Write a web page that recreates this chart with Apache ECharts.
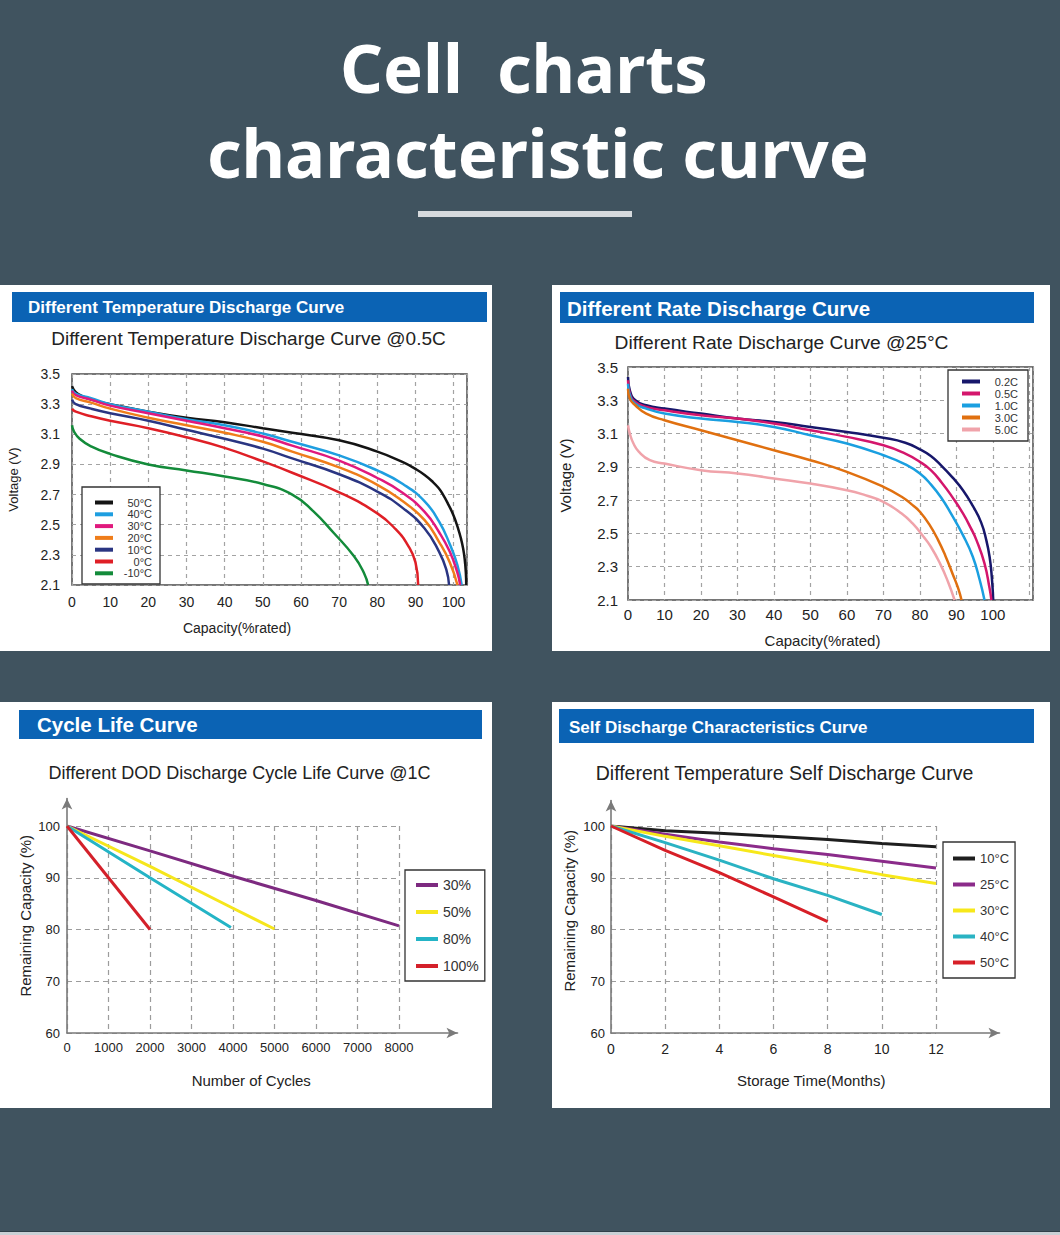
<!DOCTYPE html>
<html>
<head>
<meta charset="utf-8">
<script src="https://cdn.jsdelivr.net/npm/echarts@6/dist/echarts.min.js"></script>
<style>
html,body{margin:0;padding:0;background:#40535f;}
#c{width:1060px;height:1235px;}
</style>
</head>
<body>
<div id="c"></div>
<script>
// ===== Chart 1: Different Temperature Discharge Curve @0.5C  ([capacity %, voltage V]) =====
const tempNames = ['50°C', '40°C', '30°C', '20°C', '10°C', '0°C', '-10°C'];
const temp50 = [[0,3.42],[1,3.38],[3,3.35],[5,3.33],[10,3.30],[20,3.25],[30,3.21],[40,3.18],[50,3.14],[57.7,3.11],[70,3.06],[80,2.985],[86.7,2.915],[90,2.87],[92.4,2.83],[94.5,2.785],[96,2.745],[97.1,2.705],[98.7,2.63],[100,2.56],[101.1,2.48],[101.9,2.41],[102.5,2.34],[102.9,2.27],[103.2,2.18],[103.3,2.10]];
const temp40 = [[0,3.40],[1,3.37],[5,3.34],[10,3.30],[20,3.25],[30,3.20],[40,3.16],[50,3.105],[57.7,3.05],[70,2.96],[80,2.86],[86.7,2.77],[92.4,2.655],[96.2,2.52],[99,2.37],[101,2.23],[102.1,2.10]];
const temp30 = [[0,3.39],[1,3.36],[5,3.33],[10,3.29],[20,3.24],[30,3.19],[40,3.14],[50,3.085],[57.7,3.025],[70,2.925],[80,2.81],[86.7,2.71],[92.4,2.585],[96.2,2.45],[99,2.32],[101,2.18],[101.7,2.10]];
const temp20 = [[0,3.37],[1,3.34],[5,3.31],[10,3.27],[20,3.21],[30,3.16],[40,3.11],[50,3.05],[57.7,2.985],[70,2.88],[80,2.765],[86.7,2.655],[92.4,2.53],[96.2,2.385],[99,2.25],[101,2.10]];
const temp10 = [[0,3.33],[1,3.30],[5,3.27],[10,3.24],[20,3.19],[30,3.13],[40,3.07],[50,3.005],[57.7,2.94],[70,2.835],[80,2.72],[86.7,2.61],[92.4,2.475],[96.2,2.32],[98.1,2.20],[98.8,2.10]];
const temp0 = [[0,3.27],[1,3.25],[5,3.22],[10,3.19],[20,3.14],[30,3.08],[40,3.01],[50,2.92],[57.7,2.845],[70,2.715],[80,2.575],[84.8,2.47],[88.1,2.36],[90,2.25],[90.7,2.10]];
const tempM10 = [[0,3.16],[0.5,3.12],[2,3.07],[5,3.02],[10,2.97],[20,2.90],[30,2.86],[40,2.82],[50,2.77],[57.7,2.70],[63.2,2.59],[68.6,2.445],[73.9,2.29],[76.5,2.18],[77.6,2.10]];
const tempColors = ['#141414', '#1e9ee0', '#e0197d', '#ef7d1a', '#2a3582', '#df1f26', '#138b3a'];

// ===== Chart 2: Different Rate Discharge Curve @25°C =====
const rateNames = ['0.2C', '0.5C', '1.0C', '3.0C', '5.0C'];
const rate02 = [[0,3.44],[0.5,3.36],[2,3.30],[5,3.27],[10,3.25],[20,3.22],[30,3.19],[40,3.17],[50,3.14],[60,3.11],[70,3.075],[76,3.045],[80,3.005],[83,2.965],[86,2.905],[89,2.835],[91.8,2.76],[94.5,2.665],[96.8,2.565],[98.2,2.46],[99.1,2.36],[99.7,2.24],[100.1,2.10]];
const rate05 = [[0,3.42],[0.5,3.34],[2,3.29],[5,3.26],[10,3.24],[20,3.21],[30,3.19],[40,3.16],[50,3.12],[60,3.08],[70,3.03],[76,2.98],[80,2.93],[83,2.88],[86,2.805],[89,2.715],[91.8,2.62],[94,2.53],[95.5,2.46],[97.7,2.32],[99.1,2.17],[99.6,2.10]];
const rate10 = [[0,3.40],[0.5,3.33],[2,3.28],[5,3.25],[10,3.22],[20,3.19],[30,3.17],[40,3.14],[50,3.09],[60,3.04],[70,2.97],[76,2.915],[80,2.86],[83,2.795],[86,2.71],[88.5,2.62],[91.8,2.49],[94.5,2.36],[96.4,2.22],[97.7,2.10]];
const rate30 = [[0,3.37],[0.5,3.31],[2,3.27],[5,3.22],[10,3.18],[20,3.12],[30,3.06],[40,3.00],[50,2.94],[60,2.87],[70,2.78],[75,2.72],[78,2.67],[80,2.63],[82.7,2.55],[85,2.46],[87,2.365],[89,2.255],[90.5,2.17],[91.4,2.10]];
const rate50 = [[0,3.15],[0.5,3.10],[1.5,3.04],[3,2.99],[6,2.94],[10,2.92],[20,2.88],[30,2.86],[40,2.83],[50,2.80],[60,2.76],[65,2.73],[70,2.69],[75,2.62],[78,2.56],[81,2.48],[83,2.42],[85.5,2.32],[87.7,2.21],[89.5,2.10]];
const rateColors = ['#17176b', '#d4166c', '#1a9fe0', '#e07010', '#f0a3aa'];

// ===== Chart 3: Different DOD Discharge Cycle Life Curve @1C ([cycles, remaining %]) =====
const dodNames = ['30%', '50%', '80%', '100%'];
const dod30 = [[0,100],[2000,95.2],[4000,90.3],[6000,85.6],[8000,80.7]];
const dod50 = [[0,100],[2000,92.2],[4000,84.1],[5000,80.1]];
const dod80 = [[0,100],[2000,90.0],[3950,80.4]];
const dod100 = [[0,100],[2000,80.0]];
const dodColors = ['#7d2a80', '#f6e61c', '#24b4c6', '#d4202a'];

// ===== Chart 4: Different Temperature Self Discharge Curve ([months, remaining %]) =====
const sdNames = ['10°C', '25°C', '30°C', '40°C', '50°C'];
const storageMonths = [0, 2, 4, 6, 8, 10, 12];
const sd10 = [100, 99.1, 98.6, 98.0, 97.4, 96.6, 96.0];
const sd25 = [100, 98.4, 96.9, 95.6, 94.5, 93.2, 91.9];
const sd30 = [100, 98.0, 96.2, 94.3, 92.5, 90.6, 88.9];
const sd40 = [100, 96.8, 93.4, 89.8, 86.6, 82.9];
const sd50 = [100, 95.3, 91.0, 86.3, 81.5];
const sdColors = ['#1e1e1e', '#8b2b8a', '#f7e81a', '#2ab3c3', '#d71f27'];

// ===== Axis ranges [min, max, interval] and last labelled tick =====
const voltAxis = [2.1, 3.5, 0.2];
const capAxis1 = [0, 103.5, 10];
const capAxis2 = [0, 111, 10];
const capLastLabel = 100;
const cycleAxis = [0, 8000, 1000];
const remainAxis = [60, 100, 10];
const monthAxis = [0, 12, 2];

// ---------------------------------------------------------------
const FONT = 'Liberation Sans';
const dash1 = {type: [4, 4], color: '#a3a3a3', width: 1.2};
const dash3 = {type: [5, 4], color: '#9c9c9c', width: 1.2};

function curves(prefix, names, datas, colors, idx, width, smooth) {
  return names.map((n, i) => ({
    name: prefix + '#' + n,
    type: 'line',
    xAxisIndex: idx, yAxisIndex: idx,
    data: datas[i],
    symbol: 'none', showSymbol: false,
    smooth: smooth ? 0.5 : false,
    color: colors[i],
    lineStyle: {width: width, color: colors[i]},
    itemStyle: {color: colors[i]},
    animation: false
  }));
}
const pairs = (vals) => vals.map((v, i) => [storageMonths[i], v]);
const capLabel = (v) => (v <= capLastLabel ? String(v) : '');

function valAxis(grid, r, opt) {
  return Object.assign({
    gridIndex: grid, type: 'value', min: r[0], max: r[1], interval: r[2],
    axisLine: {show: false}, axisTick: {show: false},
    splitLine: {show: true, lineStyle: dash1}
  }, opt);
}
function arrowAxis(grid, opt) {
  return Object.assign({
    gridIndex: grid, type: 'value', min: 0, max: 1,
    axisLine: {show: true, onZero: false, symbol: ['none', 'arrow'], symbolSize: [8, 11], lineStyle: {color: '#7a7a7a', width: 1.6}},
    axisTick: {show: false}, axisLabel: {show: false}, splitLine: {show: false}
  }, opt);
}
function legendOf(prefix, names, opt, rich) {
  return Object.assign({
    orient: 'vertical', icon: 'rect', selectedMode: false,
    borderColor: '#333', borderWidth: 1.3, backgroundColor: '#fff',
    data: names.map(n => prefix + '#' + n),
    formatter: (n) => '{r|' + n.split('#')[1] + '}',
    textStyle: {rich: {r: rich}}
  }, opt);
}
function txt(text, x, y, size, color, weight, align, family) {
  return {type: 'text', z: 5, silent: true,
    style: {text: text, x: x, y: y, fill: color, fontSize: size, fontWeight: weight || 'normal',
      fontFamily: family || FONT, align: align || 'left', textAlign: align || 'left',
      verticalAlign: 'middle', textVerticalAlign: 'middle'}};
}
function box(x, y, w, h, fill) {
  return {type: 'rect', z: -10, silent: true, shape: {x: x, y: y, width: w, height: h}, style: {fill: fill}};
}

const BLUE = '#0b63b4';
const option = {
  backgroundColor: '#40535f',
  animation: false,
  textStyle: {fontFamily: FONT},
  graphic: [
    box(0, 1231, 1060, 1, '#2f3f49'),
    box(0, 1232, 1060, 3, '#c9d0d5'),
    box(0, 285, 492, 366, '#ffffff'),
    box(552, 285, 498, 366, '#ffffff'),
    box(0, 702, 492, 406, '#ffffff'),
    box(552, 702, 498, 406, '#ffffff'),
    box(12, 292, 475, 30, BLUE),
    box(560, 292, 474, 31, BLUE),
    box(19, 710, 463, 29, BLUE),
    box(559, 709, 475, 34, BLUE),
    box(418, 211, 214, 6, '#d6dadd'),
    txt('Cell', 340, 67, 67, '#ffffff', 'bold', 'left', 'Noto Sans'),
    txt('charts', 497, 67, 67, '#ffffff', 'bold', 'left', 'Noto Sans'),
    txt('characteristic curve', 207, 152, 67, '#ffffff', 'bold', 'left', 'Noto Sans'),
    txt('Different Temperature Discharge Curve', 28, 307, 17, '#ffffff', 'bold'),
    txt('Different Rate Discharge Curve', 567, 308, 20.5, '#ffffff', 'bold'),
    txt('Cycle Life Curve', 37, 724.5, 20.5, '#ffffff', 'bold'),
    txt('Self Discharge Characteristics Curve', 569, 727, 17, '#ffffff', 'bold'),
    txt('Different Temperature Discharge Curve @0.5C', 248.5, 338, 19, '#222222', 'normal', 'center'),
    txt('Different Rate Discharge Curve @25°C', 781.5, 342, 19.2, '#222222', 'normal', 'center'),
    txt('Different DOD Discharge Cycle Life Curve @1C', 239.5, 773, 18, '#222222', 'normal', 'center'),
    txt('Different Temperature Self Discharge Curve', 784.5, 773, 19.5, '#222222', 'normal', 'center')
  ],
  grid: [
    {left: 72, top: 374, width: 395, height: 211, show: true, borderColor: '#4a4a4a', borderWidth: 1.5, backgroundColor: 'transparent', containLabel: false, outerBoundsMode: 'none'},
    {left: 628, top: 367, width: 405, height: 233, show: true, borderColor: '#4a4a4a', borderWidth: 1.5, backgroundColor: 'transparent', containLabel: false, outerBoundsMode: 'none'},
    {left: 67, top: 826, width: 332, height: 207, containLabel: false, outerBoundsMode: 'none'},
    {left: 67, top: 798.5, width: 390.5, height: 234.5, containLabel: false, outerBoundsMode: 'none'},
    {left: 611, top: 826, width: 325, height: 207, containLabel: false, outerBoundsMode: 'none'},
    {left: 611, top: 800.5, width: 388.5, height: 232.5, containLabel: false, outerBoundsMode: 'none'}
  ],
  xAxis: [
    valAxis(0, capAxis1, {
      axisLabel: {fontSize: 14, color: '#222', margin: 10, formatter: capLabel},
      name: 'Capacity(%rated)', nameLocation: 'middle', nameGap: 36,
      nameTextStyle: {fontSize: 14, color: '#222', padding: [0, 65, 0, 0]}
    }),
    valAxis(1, capAxis2, {
      axisLabel: {fontSize: 15, color: '#222', margin: 7, formatter: capLabel},
      name: 'Capacity(%rated)', nameLocation: 'middle', nameGap: 33,
      nameTextStyle: {fontSize: 15, color: '#222', padding: [0, 16, 0, 0]}
    }),
    valAxis(2, cycleAxis, {
      splitLine: {show: true, lineStyle: dash3},
      axisLabel: {fontSize: 13, color: '#222', margin: 8, formatter: (v) => String(v)}
    }),
    arrowAxis(3, {
      name: 'Number of Cycles', nameLocation: 'middle', nameGap: 40,
      nameTextStyle: {fontSize: 15, color: '#222', padding: [0, 22, 0, 0]}
    }),
    valAxis(4, monthAxis, {
      splitLine: {show: true, lineStyle: dash3},
      axisLabel: {fontSize: 14, color: '#222', margin: 9, formatter: (v) => String(v)}
    }),
    arrowAxis(5, {
      name: 'Storage Time(Months)', nameLocation: 'middle', nameGap: 40,
      nameTextStyle: {fontSize: 15, color: '#222', padding: [0, 0, 0, 12]}
    })
  ],
  yAxis: [
    valAxis(0, voltAxis, {
      axisLabel: {fontSize: 14, color: '#222', margin: 12, formatter: (v) => v.toFixed(1)},
      name: 'Voltage (V)', nameLocation: 'middle', nameGap: 52,
      nameTextStyle: {fontSize: 13, color: '#222'}
    }),
    valAxis(1, voltAxis, {
      axisLabel: {fontSize: 15, color: '#222', margin: 10, formatter: (v) => v.toFixed(1)},
      name: 'Voltage (V)', nameLocation: 'middle', nameGap: 55,
      nameTextStyle: {fontSize: 15, color: '#222', padding: [0, 0, 0, 16]}
    }),
    valAxis(2, remainAxis, {
      splitLine: {show: true, lineStyle: dash3},
      axisLabel: {fontSize: 13, color: '#222', margin: 7, formatter: (v) => String(v)}
    }),
    arrowAxis(3, {
      name: 'Remaining Capacity (%)', nameLocation: 'middle', nameGap: 34,
      nameTextStyle: {fontSize: 15, color: '#222'}
    }),
    valAxis(4, remainAxis, {
      splitLine: {show: true, lineStyle: dash3},
      axisLabel: {fontSize: 13, color: '#222', margin: 6, formatter: (v) => String(v)}
    }),
    arrowAxis(5, {
      name: 'Remaining Capacity (%)', nameLocation: 'middle', nameGap: 34,
      nameTextStyle: {fontSize: 15, color: '#222', padding: [0, 0, 0, 12]}
    })
  ],
  legend: [
    legendOf('T', tempNames, {left: 82, top: 487, itemWidth: 18, itemHeight: 4, itemGap: 0.8, padding: [10, 8, 5, 13]},
      {width: 34, align: 'right', fontSize: 11, lineHeight: 10, color: '#333', fontFamily: FONT}),
    legendOf('R', rateNames, {left: 948, top: 370, itemWidth: 18, itemHeight: 4, itemGap: 1, padding: [6, 10, 6, 14]},
      {width: 33, align: 'right', fontSize: 11, lineHeight: 10, color: '#333', fontFamily: FONT}),
    legendOf('D', dodNames, {left: 405, top: 870, itemWidth: 22, itemHeight: 4, itemGap: 13, padding: [8, 6, 8, 11]},
      {fontSize: 14, lineHeight: 14, color: '#333', fontFamily: FONT}),
    legendOf('S', sdNames, {left: 943, top: 842, itemWidth: 22, itemHeight: 4, itemGap: 13, padding: [10, 6, 9, 10]},
      {fontSize: 13, lineHeight: 14, color: '#333', fontFamily: FONT})
  ],
  series: [].concat(
    curves('T', tempNames, [temp50, temp40, temp30, temp20, temp10, temp0, tempM10], tempColors, 0, 2.5, true),
    curves('R', rateNames, [rate02, rate05, rate10, rate30, rate50], rateColors, 1, 2.5, true),
    curves('D', dodNames, [dod30, dod50, dod80, dod100], dodColors, 2, 3, false),
    curves('S', sdNames, [pairs(sd10), pairs(sd25), pairs(sd30), pairs(sd40), pairs(sd50)], sdColors, 4, 3, false)
  )
};

const chart = echarts.init(document.getElementById('c'), null, {renderer: 'svg', width: 1060, height: 1235});
chart.setOption(option);
</script>
</body>
</html>
